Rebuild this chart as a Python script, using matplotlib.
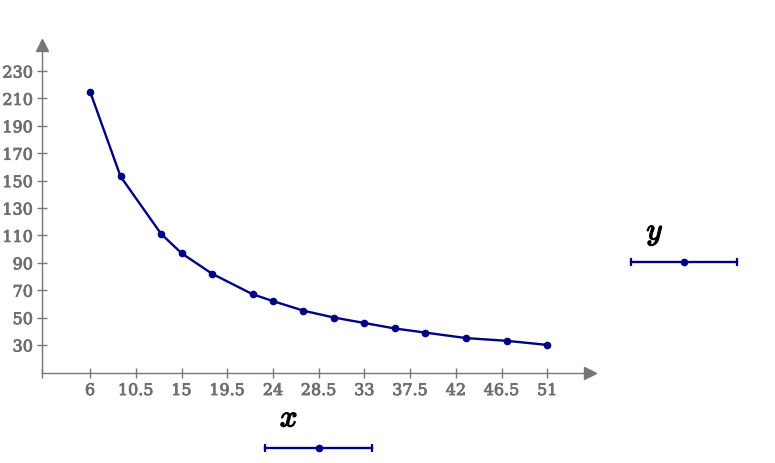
import numpy as np
import matplotlib.pyplot as plt
import matplotlib.patheffects as pe
from matplotlib.lines import Line2D

# values
x_vals = [6, 9, 13, 15, 18, 22, 24, 27, 30, 33, 36, 39, 43, 47, 51]
y_vals = [215, 153, 111, 97, 82, 67, 62, 55, 50, 46, 42, 39, 35, 33, 30]
x_ticks = [6, 10.5, 15, 19.5, 24, 28.5, 33, 37.5, 42, 46.5, 51]
x_tick_labels = ['6', '10.5', '15', '19.5', '24', '28.5', '33', '37.5', '42', '46.5', '51']
y_ticks = [30, 50, 70, 90, 110, 130, 150, 170, 190, 210, 230]

W, H = 775, 463
line_col = '#000080'
axis_col = '#777777'
text_col = '#6e6e6e'

plt.rcParams['mathtext.fontset'] = 'cm'

fig = plt.figure(figsize=(W / 100, H / 100), dpi=100)
# axes box in pixels: x 42..590, y 45..373
ax = fig.add_axes([42 / W, (H - 373) / H, 548 / W, 328 / H])
x0, x1 = 1.27, 55.2
y0, y1 = 9.5, 249
ax.set_xlim(x0, x1)
ax.set_ylim(y0, y1)

ax.plot(x_vals, y_vals, '-o', color=line_col, lw=1.7, ms=4.5, clip_on=False)

for s in ['top', 'right']:
    ax.spines[s].set_visible(False)
for s in ['left', 'bottom']:
    ax.spines[s].set_color(axis_col)
    ax.spines[s].set_linewidth(1.0)

ax.set_xticks([x0] + x_ticks)
ax.set_xticklabels([''] + x_tick_labels)
ax.set_yticks(y_ticks)
ax.set_yticklabels([str(v) for v in y_ticks])
ax.tick_params(direction='inout', length=7, width=1, color=axis_col,
               labelcolor=text_col, labelsize=11.5, pad=3)
thick = [pe.withStroke(linewidth=0.6, foreground=text_col)]
for lab in ax.get_xticklabels() + ax.get_yticklabels():
    lab.set_fontfamily('DejaVu Serif')
    lab.set_path_effects(thick)

# arrow heads at axis ends
ax.plot([1], [0], marker='>', ms=8, color=axis_col, transform=ax.transAxes, clip_on=False)
ax.plot([0], [1], marker='^', ms=8, color=axis_col, transform=ax.transAxes, clip_on=False)


def key(xa, xb, yy, label, lx, ly):
    xs = [xa / W, (xa + xb) / 2 / W, xb / W]
    ys = [(H - yy) / H] * 3
    fig.add_artist(Line2D([xs[0], xs[2]], ys[:2], color=line_col, lw=1.7))
    fig.add_artist(Line2D([xs[1]], [ys[1]], marker='o', ms=4.5, color=line_col))
    fig.add_artist(Line2D([xs[0], xs[2]], ys[:2], ls='none', marker='|', ms=6, mew=1.6,
                          color=line_col))
    fig.text(lx / W, (H - ly) / H, label, fontsize=22, ha='center', va='center',
             path_effects=[pe.withStroke(linewidth=1.0, foreground='black')])


key(265, 372, 448, '$x$', 289, 418)
key(631, 737, 262, '$y$', 655, 233)

fig.savefig('out.png', dpi=100)
